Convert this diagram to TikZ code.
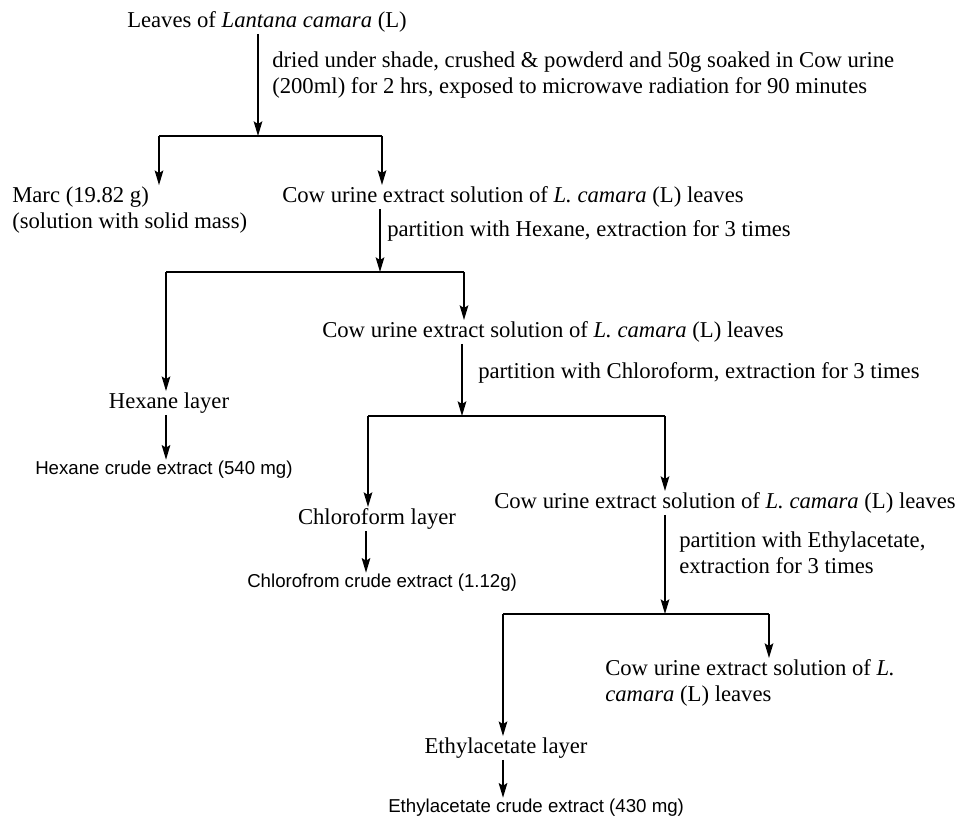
\documentclass[tikz,border=0pt]{standalone}
\usepackage{fontspec}
\setmainfont{Liberation Serif}
\newfontfamily\sansf{Liberation Sans}
\usetikzlibrary{arrows.meta}
\begin{document}
\begin{tikzpicture}[x=0.75pt,y=-0.75pt,
  txt/.style={inner xsep=0pt, inner ysep=1pt, font=\fontsize{17}{19.5}\selectfont, align=left},
  stxt/.style={inner xsep=0pt, inner ysep=1pt, font=\sansf\fontsize{14}{17}\selectfont},
  arr/.style={-{Stealth[length=11pt,width=6.5pt,inset=2pt]}, line width=1pt},
  bar/.style={line width=1pt}]
\useasboundingbox (0,0) rectangle (961,827);
% nodes
\node[txt, anchor=west] (leaves) at (127,22) {Leaves of \textit{Lantana camara} (L)};
\node[txt, anchor=west] (lab1) at (272,75) {dried under shade, crushed \& powderd and 50g soaked in Cow urine\\(200ml) for 2 hrs, exposed to microwave radiation for 90 minutes};
\node[txt, anchor=west] (marc) at (12,210) {Marc (19.82 g)\\(solution with solid mass)};
\node[txt, anchor=west] (cow1) at (282,197) {Cow urine extract solution of \textit{L. camara} (L) leaves};
\node[txt, anchor=west] (lab2) at (387,231) {partition with Hexane, extraction for 3 times};
\node[txt] (hex) at (169,403) {Hexane layer};
\node[txt, anchor=west] (cow2) at (322,332) {Cow urine extract solution of \textit{L. camara} (L) leaves};
\node[stxt, anchor=west] (hexc) at (35,470) {Hexane crude extract (540 mg)};
\node[txt, anchor=west] (lab3) at (478,373) {partition with Chloroform, extraction for 3 times};
\node[txt] (chl) at (377,519) {Chloroform layer};
\node[txt, anchor=west] (cow3) at (494,503) {Cow urine extract solution of \textit{L. camara} (L) leaves};
\node[stxt, anchor=west] (chlc) at (247,583) {Chlorofrom crude extract (1.12g)};
\node[txt, anchor=west] (lab4) at (679,553) {partition with Ethylacetate,\\extraction for 3 times};
\node[txt] (eth) at (506,748) {Ethylacetate layer};
\node[txt, anchor=west] (cow4) at (605,683) {Cow urine extract solution of \textit{L.}\\\textit{camara} (L) leaves};
\node[stxt, anchor=west] (ethc) at (388,808) {Ethylacetate crude extract (430 mg)};
% bar coordinates
\coordinate (j1) at (258,136); \coordinate (l1) at (159,136); \coordinate (r1) at (382,136);
\coordinate (j2) at (380,272); \coordinate (l2) at (166,272); \coordinate (r2) at (464,272);
\coordinate (j3) at (462,416); \coordinate (l3) at (368,416); \coordinate (r3) at (665,416);
\coordinate (j4) at (665,614); \coordinate (l4) at (503,614); \coordinate (r4) at (769,614);
% level 1
\draw[arr] (leaves.south -| j1) -- (j1);
\draw[bar] (l1) -- (r1);
\draw[arr] (l1) -- (l1 |- marc.north);
\draw[arr] (r1) -- (r1 |- cow1.north);
% level 2
\draw[arr] (cow1.south -| j2) -- (j2);
\draw[bar] (l2) -- (r2);
\draw[arr] (l2) -- (l2 |- hex.north);
\draw[arr] (r2) -- (r2 |- cow2.north);
\draw[arr] (l2 |- hex.south) -- (l2 |- hexc.north);
% level 3
\draw[arr] (cow2.south -| j3) -- (j3);
\draw[bar] (l3) -- (r3);
\draw[arr] (l3) -- (l3 |- chl.north);
\draw[arr] (r3) -- (r3 |- cow3.north);
\draw[arr] ([xshift=-1.5pt]l3 |- chl.south) -- ([xshift=-1.5pt]l3 |- chlc.north);
% level 4
\draw[arr] (cow3.south -| j4) -- (j4);
\draw[bar] (l4) -- (r4);
\draw[arr] (l4) -- (l4 |- eth.north);
\draw[arr] (r4) -- (r4 |- cow4.north);
\draw[arr] (l4 |- eth.south) -- (l4 |- ethc.north);
\end{tikzpicture}
\end{document}
